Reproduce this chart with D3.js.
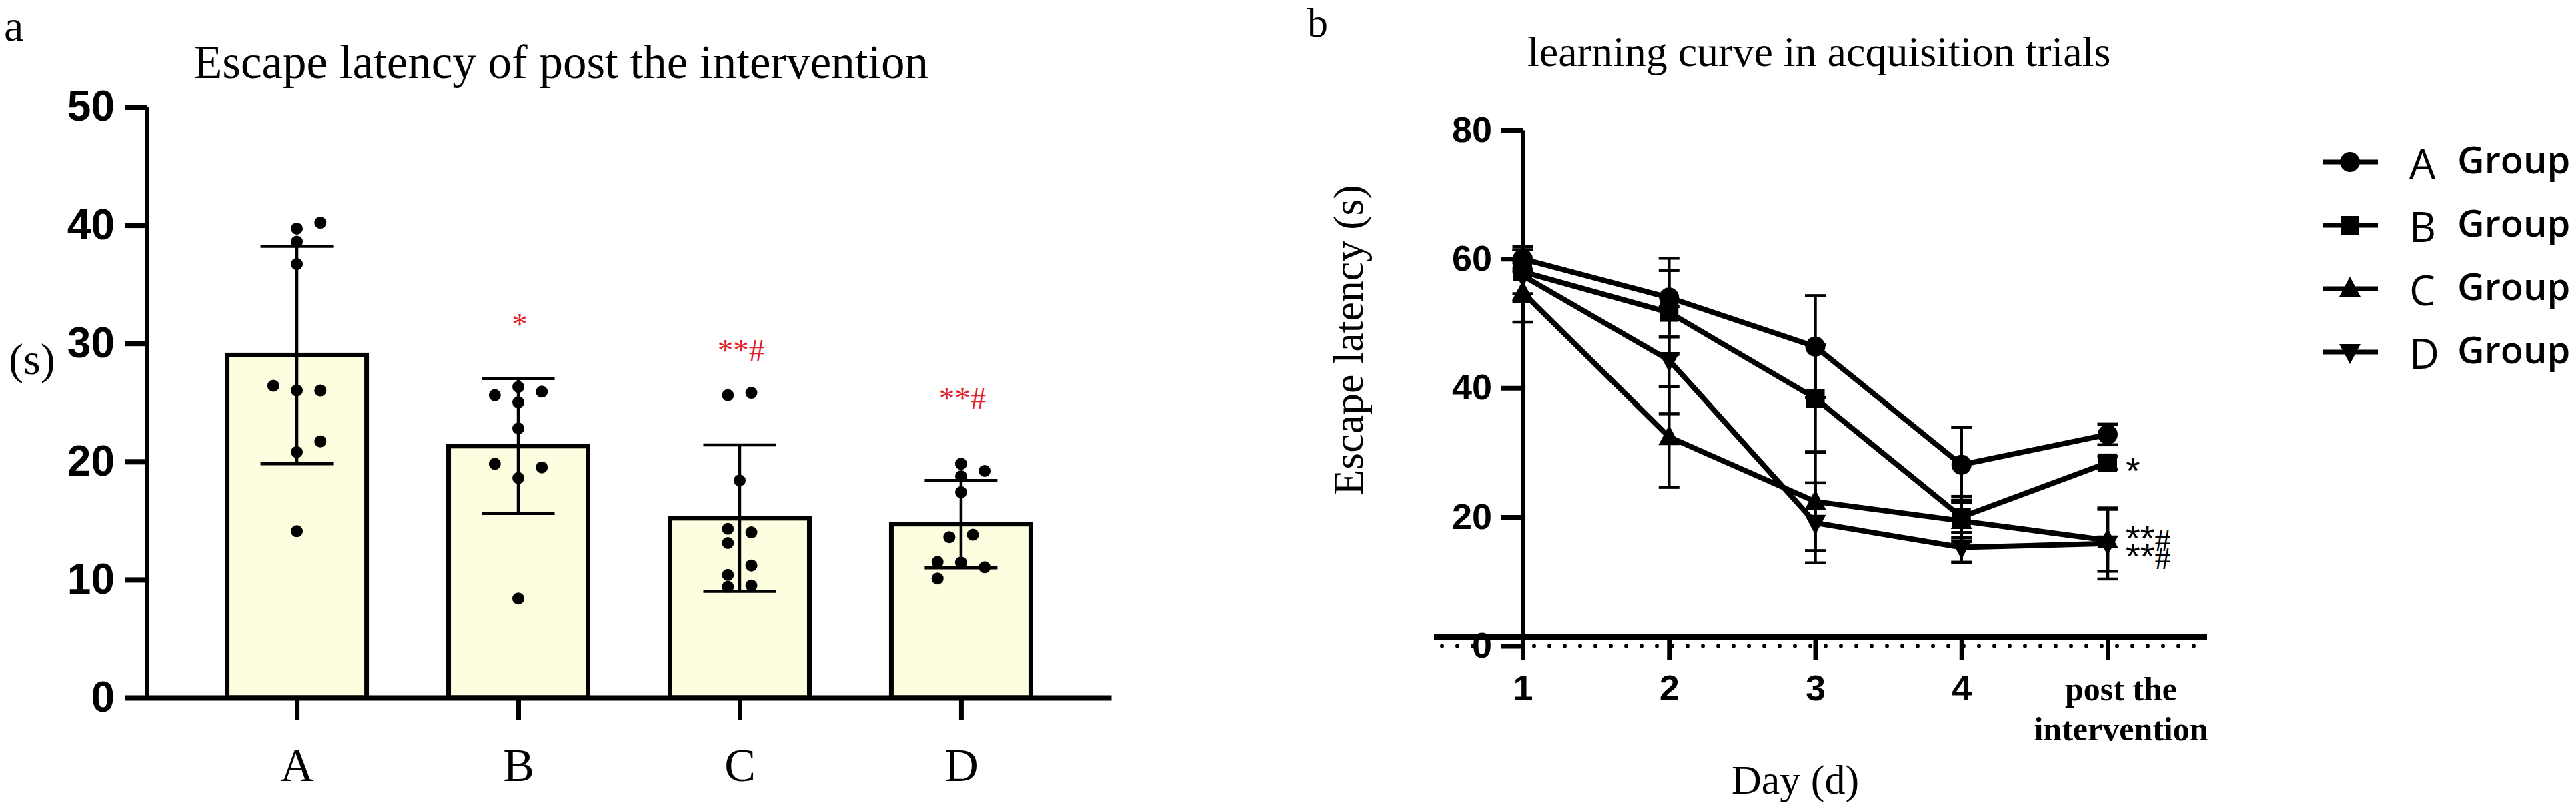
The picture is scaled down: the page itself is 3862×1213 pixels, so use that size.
<!DOCTYPE html>
<html>
<head>
<meta charset="utf-8">
<script src="https://cdn.jsdelivr.net/npm/d3@7"></script>
<style>
  body { margin: 0; background: #fff; }
  svg { display: block; }
</style>
</head>
<body>
<div id="figure"></div>
<script>
// panel a: escape latency after the intervention
const barGroups = ['A', 'B', 'C', 'D'];
const barMeans = [29.0, 21.3, 15.2, 14.7];
const barSD = [9.2, 5.7, 6.2, 3.7];
const barTicks = [0, 10, 20, 30, 40, 50];
const barMarks = ['', '*', '**#', '**#'];
const barMarkLevel = [null, 30.7, 28.5, 24.45];

const pointsA = [40.2, 39.7, 38.6, 36.7, 26.4, 26.0, 26.0, 21.7, 20.8, 14.1];
const pointsB = [26.3, 25.9, 25.6, 25.0, 22.8, 19.8, 19.5, 18.6, 8.4];
const pointsC = [25.6, 25.8, 18.4, 14.3, 14.0, 13.1, 11.2, 10.4, 9.4, 9.5];
const pointsD = [19.8, 19.2, 18.75, 17.4, 13.6, 13.8, 11.5, 11.45, 11.05, 10.1];

// panel b: learning curve
const dayLabels = ['1', '2', '3', '4', 'post the intervention'];
const curveTicks = [0, 20, 40, 60, 80];
const curveGroups = ['A', 'B', 'C', 'D'];
const meanA = [60.0, 54.0, 46.4, 28.1, 32.8];
const meanB = [58.0, 51.7, 38.4, 20.0, 28.4];
const meanC = [54.8, 32.4, 22.4, 19.4, 16.4];
const meanD = [57.4, 44.3, 19.1, 15.3, 15.9];
const sdA = [1.9, 6.1, 7.9, 5.8, 1.6];
const sdB = [3.4, 6.5, 8.3, 3.2, 1.0];
const sdC = [4.6, 7.8, 7.6, 3.2, 4.8];
const sdD = [4.0, 8.3, 6.2, 2.3, 5.5];
const postMarks = ['', '*', '**#', '**#'];
const postMarkLevel = [null, 25.2, 14.7, 11.9];

const SERIF = "'Liberation Serif', 'Times New Roman', serif";
const SANS = "'Liberation Sans', Arial, sans-serif";
const LEGEND_FONT = "'Open Sans', 'Noto Sans', sans-serif";

const width = 3862;
const height = 1213;

const svg = d3.select('#figure')
    .append('svg')
    .attr('width', width)
    .attr('height', height);

svg.append('rect')
    .attr('width', width)
    .attr('height', height)
    .attr('fill', '#fff');

drawBarPanel();
drawCurvePanel();

// d3.axis puts its own font on the group, so set ours after the call
function styleAxis(g, family, size, weight) {
    g.attr('font-family', family)
        .attr('font-size', size)
        .attr('font-weight', weight);
}

function drawBarPanel() {
    const x = d3.scalePoint().domain(barGroups).range([220, 1666]).padding(0.678);
    const y = d3.scaleLinear().domain([0, 50]).range([1046, 160.5]);
    const barWidth = 209;
    const capWidth = 109;
    const slot = 17.6;

    // dot arrangement (columns) of the scatter, as laid out in the original
    const swarmSlots = {
        A: [2, 0, 0, 0, -2, 0, 2, 2, 0, 0],
        B: [0, 2, -2, 0, 0, -2, 2, 0, 0],
        C: [-1, 1, 0, -1, 1, -1, 1, -1, -1, 1],
        D: [0, 2, 0, 0, -1, 1, -2, 0, 2, -2]
    };
    const points = { A: pointsA, B: pointsB, C: pointsC, D: pointsD };

    svg.append('text')
        .attr('x', 6)
        .attr('y', 61)
        .attr('font-family', SERIF)
        .attr('font-size', 66)
        .text('a');

    svg.append('text')
        .attr('x', 290)
        .attr('y', 117)
        .attr('font-family', SERIF)
        .attr('font-size', 71)
        .text('Escape latency of post the intervention');

    svg.append('text')
        .attr('x', 13)
        .attr('y', 561)
        .attr('font-family', SERIF)
        .attr('font-size', 66)
        .text('(s)');

    svg.append('g')
        .selectAll('rect')
        .data(barGroups)
        .enter()
        .append('rect')
        .attr('x', d => x(d) - barWidth / 2)
        .attr('y', (d, i) => y(barMeans[i]))
        .attr('width', barWidth)
        .attr('height', (d, i) => y(0) - y(barMeans[i]))
        .attr('fill', '#fdfde0')
        .attr('stroke', '#000')
        .attr('stroke-width', 7);

    const gy = svg.append('g')
        .attr('transform', 'translate(220,0)')
        .call(d3.axisLeft(y).tickValues(barTicks).tickSize(32).tickSizeOuter(0).tickPadding(16));
    styleAxis(gy, SANS, 64, 'bold');
    gy.select('.domain').attr('stroke-width', 7);
    gy.selectAll('.tick line').attr('stroke-width', 8);

    const gx = svg.append('g')
        .attr('transform', `translate(0,${y(0)})`)
        .call(d3.axisBottom(x).tickSize(34).tickSizeOuter(0).tickPadding(41));
    styleAxis(gx, SERIF, 70, 'normal');
    gx.select('.domain').attr('stroke-width', 8);
    gx.selectAll('.tick line').attr('stroke-width', 7);

    const err = svg.append('g')
        .attr('stroke', '#000')
        .attr('stroke-width', 4.5);
    barGroups.forEach((g, i) => {
        const cx = x(g);
        const top = y(barMeans[i] + barSD[i]);
        const bottom = y(barMeans[i] - barSD[i]);
        err.append('line')
            .attr('x1', cx).attr('x2', cx)
            .attr('y1', top).attr('y2', bottom);
        [top, bottom].forEach(cy => {
            err.append('line')
                .attr('x1', cx - capWidth / 2).attr('x2', cx + capWidth / 2)
                .attr('y1', cy).attr('y2', cy);
        });
    });

    barGroups.forEach(g => {
        svg.append('g')
            .selectAll('circle')
            .data(points[g])
            .enter()
            .append('circle')
            .attr('cx', (d, j) => x(g) + swarmSlots[g][j] * slot)
            .attr('cy', d => y(d))
            .attr('r', 9)
            .attr('fill', '#000');
    });

    svg.append('g')
        .selectAll('text')
        .data(barGroups.filter((d, i) => barMarks[i]))
        .enter()
        .append('text')
        .attr('x', d => x(d) + 2)
        .attr('y', d => y(barMarkLevel[barGroups.indexOf(d)]))
        .attr('text-anchor', 'middle')
        .attr('font-family', SERIF)
        .attr('font-size', 47)
        .attr('fill', '#e0202a')
        .text(d => barMarks[barGroups.indexOf(d)]);
}

function symbolFor(group) {
    const half = 16;
    const triUp = {
        draw(ctx) {
            ctx.moveTo(0, -half - 2);
            ctx.lineTo(half, half - 4);
            ctx.lineTo(-half, half - 4);
            ctx.closePath();
        }
    };
    const triDown = {
        draw(ctx) {
            ctx.moveTo(0, half + 2);
            ctx.lineTo(half, -half + 4);
            ctx.lineTo(-half, -half + 4);
            ctx.closePath();
        }
    };
    if (group === 'A') return d3.symbol(d3.symbolCircle, Math.PI * 15 * 15)();
    if (group === 'B') return d3.symbol(d3.symbolSquare, 28 * 28)();
    if (group === 'C') return d3.symbol(triUp)();
    return d3.symbol(triDown)();
}

function drawCurvePanel() {
    const x = d3.scalePoint().domain(dayLabels).range([2283, 3160]);
    const y = d3.scaleLinear().domain([0, 80]).range([968.5, 194.9]);
    const axisY = 955;
    const capWidth = 31;
    const means = { A: meanA, B: meanB, C: meanC, D: meanD };
    const sds = { A: sdA, B: sdB, C: sdC, D: sdD };

    svg.append('text')
        .attr('x', 1960)
        .attr('y', 55)
        .attr('font-family', SERIF)
        .attr('font-size', 62)
        .text('b');

    svg.append('text')
        .attr('x', 2290)
        .attr('y', 99)
        .attr('font-family', SERIF)
        .attr('font-size', 64)
        .text('learning curve in acquisition trials');

    svg.append('text')
        .attr('transform', 'translate(2043,510) rotate(-90)')
        .attr('text-anchor', 'middle')
        .attr('font-family', SERIF)
        .attr('font-size', 64)
        .text('Escape latency (s)');

    svg.append('text')
        .attr('x', 2596)
        .attr('y', 1190)
        .attr('font-family', SERIF)
        .attr('font-size', 62)
        .text('Day (d)');

    // dotted zero line and the solid x axis just above it
    svg.append('line')
        .attr('x1', 2162).attr('x2', 3290)
        .attr('y1', y(0)).attr('y2', y(0))
        .attr('stroke', '#000')
        .attr('stroke-width', 6)
        .attr('stroke-linecap', 'round')
        .attr('stroke-dasharray', '0 23');

    svg.append('line')
        .attr('x1', 2150).attr('x2', 3309)
        .attr('y1', axisY).attr('y2', axisY)
        .attr('stroke', '#000')
        .attr('stroke-width', 8);

    const gy = svg.append('g')
        .attr('transform', 'translate(2283,0)')
        .call(d3.axisLeft(y).tickValues(curveTicks).tickSize(33).tickSizeOuter(0).tickPadding(13));
    styleAxis(gy, SANS, 54, 'bold');
    gy.select('.domain').attr('stroke-width', 7);
    gy.selectAll('.tick line').attr('stroke-width', 7);

    const gx = svg.append('g')
        .attr('transform', `translate(0,${axisY})`)
        .call(d3.axisBottom(x).tickSize(34).tickPadding(23).tickFormat(d => d.includes(' ') ? '' : d));
    styleAxis(gx, SANS, 54, 'bold');
    gx.select('.domain').remove();
    gx.selectAll('.tick line').attr('stroke-width', 7);

    const longLabel = dayLabels.find(d => d.includes(' '));
    const words = longLabel.split(' ');
    const lines = [words.slice(0, 2).join(' '), words.slice(2).join(' ')];
    svg.append('text')
        .attr('text-anchor', 'middle')
        .attr('font-family', SERIF)
        .attr('font-weight', 'bold')
        .attr('font-size', 50)
        .selectAll('tspan')
        .data(lines)
        .enter()
        .append('tspan')
        .attr('x', x(longLabel) + 20)
        .attr('y', (d, i) => 1050 + i * 60)
        .text(d => d);

    const err = svg.append('g')
        .attr('stroke', '#000')
        .attr('stroke-width', 4.5);
    curveGroups.forEach(g => {
        dayLabels.forEach((day, i) => {
            const cx = x(day);
            const top = y(means[g][i] + sds[g][i]);
            const bottom = y(means[g][i] - sds[g][i]);
            err.append('line')
                .attr('x1', cx).attr('x2', cx)
                .attr('y1', top).attr('y2', bottom);
            [top, bottom].forEach(cy => {
                err.append('line')
                    .attr('x1', cx - capWidth / 2).attr('x2', cx + capWidth / 2)
                    .attr('y1', cy).attr('y2', cy);
            });
        });
    });

    const line = d3.line()
        .x((d, i) => x(dayLabels[i]))
        .y(d => y(d));

    curveGroups.forEach(g => {
        svg.append('path')
            .attr('d', line(means[g]))
            .attr('fill', 'none')
            .attr('stroke', '#000')
            .attr('stroke-width', 8)
            .attr('stroke-linejoin', 'round');
    });

    curveGroups.forEach(g => {
        svg.append('g')
            .selectAll('path')
            .data(means[g])
            .enter()
            .append('path')
            .attr('transform', (d, i) => `translate(${x(dayLabels[i])},${y(d)})`)
            .attr('d', symbolFor(g))
            .attr('fill', '#000');
    });

    const postX = x(dayLabels[dayLabels.length - 1]);
    curveGroups.forEach((g, i) => {
        if (!postMarks[i]) return;
        const t = svg.append('text')
            .attr('x', postX + 27)
            .attr('y', y(postMarkLevel[i]))
            .attr('font-family', SANS)
            .attr('font-size', 56);
        t.append('tspan').text(postMarks[i].replace('#', ''));
        if (postMarks[i].includes('#')) {
            t.append('tspan')
                .attr('font-family', SERIF)
                .attr('font-size', 48)
                .text('#');
        }
    });

    // legend
    const legend = svg.append('g');
    curveGroups.forEach((g, i) => {
        const ly = 243 + i * 95;
        legend.append('line')
            .attr('x1', 3483).attr('x2', 3565)
            .attr('y1', ly).attr('y2', ly)
            .attr('stroke', '#000')
            .attr('stroke-width', 7);
        legend.append('path')
            .attr('transform', `translate(3523,${ly})`)
            .attr('d', symbolFor(g))
            .attr('fill', '#000');
        legend.append('text')
            .attr('x', 3612)
            .attr('y', ly + 25)
            .attr('font-family', LEGEND_FONT)
            .attr('font-size', 62)
            .text(g);
        legend.append('text')
            .attr('x', 3684)
            .attr('y', ly + 17)
            .attr('font-family', LEGEND_FONT)
            .attr('font-weight', 600)
            .attr('font-size', 56)
            .text('Group');
    });
}
</script>
</body>
</html>
